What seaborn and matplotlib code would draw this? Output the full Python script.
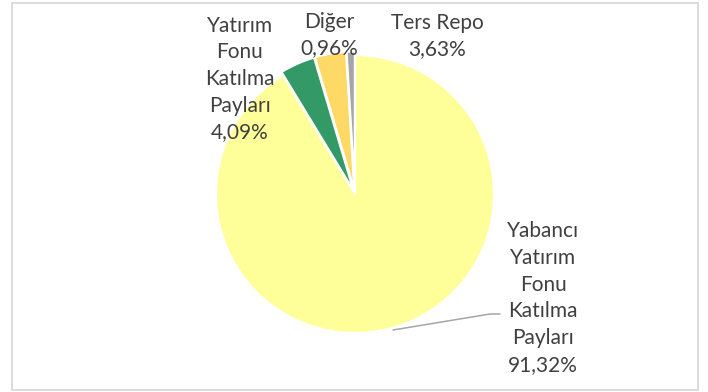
import textwrap
import matplotlib
matplotlib.use("Agg")
import matplotlib.pyplot as plt
from matplotlib.patches import Rectangle
import seaborn as sns

# Portföy dağılımı (%)
categories = ["Yabancı Yatırım Fonu Katılma Payları",
              "Yatırım Fonu Katılma Payları",
              "Ters Repo",
              "Diğer"]
shares = [91.32, 4.09, 3.63, 0.96]
colors = ["#FFFF99", "#339966", "#FFD966", "#A5A5A5"]

sns.set_theme(style="white")
plt.rcParams["font.family"] = ["Lato", "DejaVu Sans"]

W, H = 708, 392
fig = plt.figure(figsize=(W / 100, H / 100), dpi=100)
ax = fig.add_axes([0, 0, 1, 1])

# pie in pixel units (y measured upward)
cx, cy, r = 355, H - 194, 139
ax.pie(shares, colors=colors, startangle=90, counterclock=False,
       center=(cx, cy), radius=r, explode=[0, 0.025 * r, 0.025 * r, 0.025 * r],
       wedgeprops=dict(edgecolor="white", linewidth=1.6))
ax.set_xlim(0, W)
ax.set_ylim(0, H)
ax.set_aspect("auto")
ax.axis("off")


def label(i):
    name = textwrap.fill(categories[i], width=9)
    return f"{name}\n{shares[i]:.2f}%".replace(".", ",")


txt = dict(ha="center", va="center", fontsize=15, color="#404040",
           linespacing=1.42)
# label centres (x, y from top)
positions = [(543, 298), (240, 79), (437, 36), (329, 35)]
for i, (x, y) in enumerate(positions):
    ax.text(x, H - y, label(i), **txt)

# leader line for the large slice
ax.plot([393, 490, 500], [H - 330, H - 314, H - 314], color="#A6A6A6", lw=1.1)

# chart frame
fig.patches.append(Rectangle((12, 2), 686, 387, transform=None, fill=False,
                             edgecolor="#D9D9D9", linewidth=1.3))

fig.savefig("out.png", dpi=100)
